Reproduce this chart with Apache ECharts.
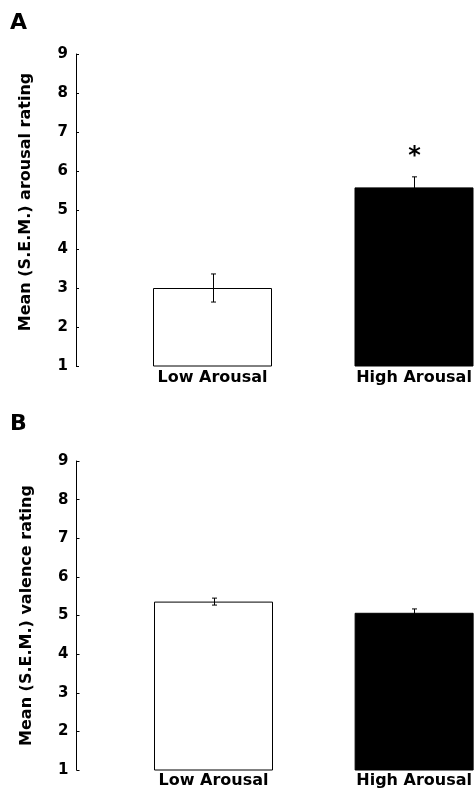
<!DOCTYPE html>
<html>
<head>
<meta charset="utf-8">
<script src="https://cdn.jsdelivr.net/npm/echarts@6/dist/echarts.min.js"></script>
<style>
html,body{margin:0;padding:0;background:#fff;}
#main{width:475px;height:797px;}
</style>
</head>
<body>
<div id="main"></div>
<script>
var categories = ['Low Arousal', 'High Arousal'];
var arousalMean = [3.0, 5.58];
var arousalSem = [0.36, 0.27];
var arousalMarks = ['', '*'];
var valenceMean = [5.36, 5.07];
var valenceSem = [0.09, 0.10];
var valenceMarks = ['', ''];
var barColors = ['#ffffff', '#000000'];
var yMin = 1, yMax = 9, yStep = 1;

var font = '"DejaVu Sans", "Liberation Sans", Arial, sans-serif';

function barData(means){
	var out = [];
	for(var i = 0;i<means.length;i++){
		out.push({value:means[i], itemStyle:{color:barColors[i]}});
	}
	return out;
}
function errData(means, sems){
	var out = [];
	for(var i = 0;i<means.length;i++){
		out.push([i, means[i]+sems[i], means[i]-sems[i]]);
	}
	return out;
}
function errRender(marks){
	return function(params, api){
		var i = api.value(0);
		var hi = api.coord([i, api.value(1)]);
		var lo = api.coord([i, api.value(2)]);
		var x = Math.round(hi[0]) + 0.5;
		var style = {stroke:'#000', lineWidth:1};
		var kids = [
			{type:'line', shape:{x1:x, y1:hi[1], x2:x, y2:lo[1]}, style:style},
			{type:'line', shape:{x1:x-2.5, y1:hi[1], x2:x+2.5, y2:hi[1]}, style:style},
			{type:'line', shape:{x1:x-2.5, y1:lo[1], x2:x+2.5, y2:lo[1]}, style:style}
		];
		var m = marks[params.dataIndex];
		if(m){
			kids.push({type:'text', x:x, y:hi[1]-20, style:{text:m, fill:'#000', font:'bold 24px ' + font, align:'center', verticalAlign:'middle'}});
		}
		return {type:'group', children:kids};
	}
}
function yAxis(idx, name, offset){
	return {
		type:'value', gridIndex:idx, min:yMin, max:yMax, interval:yStep,
		offset:offset,
		name:name, nameLocation:'middle', nameGap:42, nameRotate:90,
		nameTextStyle:{fontFamily:font, fontWeight:'bold', fontSize:16, color:'#000', padding:idx == 0 ? [0,0,0,16] : 0},
		axisLine:{show:true, lineStyle:{color:'#000', width:1}},
		axisTick:{show:true, inside:true, length:3, lineStyle:{color:'#000'}},
		axisLabel:{fontFamily:font, fontWeight:'bold', fontSize:15, color:'#000', margin:8},
		splitLine:{show:false}
	};
}
function xAxis(idx, margin){
	return {
		type:'category', gridIndex:idx, data:categories, boundaryGap:false,
		axisLine:{show:false}, axisTick:{show:false},
		axisLabel:{fontFamily:font, fontWeight:'bold', fontSize:16, color:'#000', margin:margin}
	};
}

var chart = echarts.init(document.getElementById('main'));
chart.setOption({
	animation:false,
	backgroundColor:'#fff',
	title:[
		{text:'A', left:10, top:12, padding:0, textStyle:{fontFamily:font, fontWeight:'bold', fontSize:22, color:'#000'}},
		{text:'B', left:10, top:413, padding:0, textStyle:{fontFamily:font, fontWeight:'bold', fontSize:22, color:'#000'}}
	],
	grid:[
		{left:212.5, width:201.5, top:54, height:312},
		{left:213.5, width:201.5, top:461, height:309}
	],
	xAxis:[xAxis(0, 4), xAxis(1, 3)],
	yAxis:[
		yAxis(0, 'Mean (S.E.M.) arousal rating', 136.5),
		yAxis(1, 'Mean (S.E.M.) valence rating', 137)
	],
	series:[
		{type:'bar', xAxisIndex:0, yAxisIndex:0, barWidth:119, data:barData(arousalMean),
			itemStyle:{borderColor:'#000', borderWidth:1}},
		{type:'custom', xAxisIndex:0, yAxisIndex:0, data:errData(arousalMean, arousalSem),
			encode:{x:0, y:[1,2]}, renderItem:errRender(arousalMarks), z:5},
		{type:'bar', xAxisIndex:1, yAxisIndex:1, barWidth:119, data:barData(valenceMean),
			itemStyle:{borderColor:'#000', borderWidth:1}},
		{type:'custom', xAxisIndex:1, yAxisIndex:1, data:errData(valenceMean, valenceSem),
			encode:{x:0, y:[1,2]}, renderItem:errRender(valenceMarks), z:5}
	]
});
</script>
</body>
</html>
